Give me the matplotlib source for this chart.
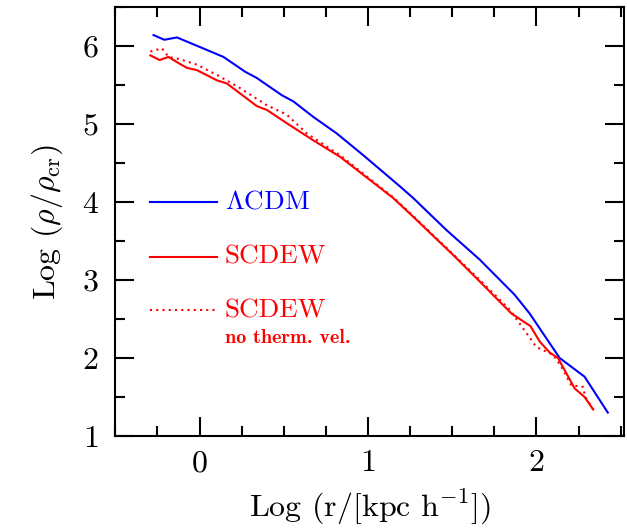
import matplotlib
matplotlib.use("Agg")
import matplotlib.pyplot as plt
from matplotlib.ticker import MultipleLocator

plt.rcParams['font.family'] = ['cmr10', 'DejaVu Serif']
plt.rcParams['mathtext.fontset'] = 'cm'
plt.rcParams['axes.unicode_minus'] = False
plt.rcParams['axes.formatter.use_mathtext'] = True

# Lambda CDM
lcdm_x = [-0.273, -0.209, -0.134, 0.142, 0.271, 0.34, 0.488, 0.557, 0.676, 0.814,
          0.972, 1.19, 1.269, 1.466, 1.664, 1.871, 1.96, 2.138, 2.286, 2.424]
lcdm_y = [6.14, 6.08, 6.11, 5.86, 5.67, 5.59, 5.37, 5.29, 5.09, 4.88,
          4.60, 4.20, 4.05, 3.64, 3.26, 2.81, 2.57, 2.00, 1.76, 1.30]

# SCDEW
scdew_x = [-0.292, -0.237, -0.184, -0.124, -0.075, -0.015, 0.103, 0.162, 0.34, 0.40,
           0.518, 0.676, 0.834, 1.15, 1.269, 1.506, 1.664, 1.852, 1.964, 2.02,
           2.079, 2.128, 2.227, 2.286, 2.337]
scdew_y = [5.88, 5.82, 5.86, 5.78, 5.72, 5.69, 5.56, 5.52, 5.23, 5.18,
           5.01, 4.79, 4.58, 4.05, 3.81, 3.32, 2.98, 2.57, 2.41, 2.21,
           2.07, 2.00, 1.61, 1.50, 1.34]

# SCDEW, no thermal velocities
nothv_x = [-0.292, -0.223, -0.184, -0.114, -0.015, 0.103, 0.241, 0.40, 0.518, 0.637,
           0.834, 1.15, 1.269, 1.506, 1.664, 1.842, 2.0, 2.1, 2.148, 2.207,
           2.277, 2.29, 2.337]
nothv_y = [5.93, 5.97, 5.86, 5.83, 5.76, 5.63, 5.46, 5.24, 5.12, 4.88,
           4.60, 4.06, 3.82, 3.33, 3.00, 2.62, 2.14, 2.04, 1.89, 1.65,
           1.63, 1.50, 1.34]

fig = plt.figure(figsize=(6.27, 5.29), dpi=100)
ax = fig.add_axes([115.3 / 627, 1 - 436 / 529, (624 - 115.3) / 627, (436 - 7) / 529])

ax.plot(lcdm_x, lcdm_y, color='#0000ff', lw=1.5)
ax.plot(scdew_x, scdew_y, color='#ff0000', lw=1.5)
ax.plot(nothv_x, nothv_y, color='#ff0000', lw=1.5, linestyle=(0, (1, 2)))

# legend drawn as lines + texts
leg_x = [-0.295, 0.103]
ax.plot(leg_x, [4.0, 4.0], color='#0000ff', lw=1.5)
ax.plot(leg_x, [3.30, 3.30], color='#ff0000', lw=1.5)
ax.plot(leg_x, [2.61, 2.61], color='#ff0000', lw=1.5, linestyle=(0, (1, 2)))
ax.text(0.15, 4.0, r'$\Lambda$CDM', color='#0000ff', fontsize=19.5, va='center', ha='left')
ax.text(0.15, 3.30, 'SCDEW', color='#ff0000', fontsize=19.5, va='center', ha='left')
ax.text(0.15, 2.61, 'SCDEW', color='#ff0000', fontsize=19.5, va='center', ha='left')
ax.text(0.15, 2.26, 'no therm. vel.', color='#ff0000', fontsize=14.5, va='center', ha='left',
        family=['cmb10', 'DejaVu Serif'])

ax.set_xlim(-0.5, 2.52)
ax.set_ylim(1, 6.5)
ax.xaxis.set_major_locator(MultipleLocator(1))
ax.xaxis.set_minor_locator(MultipleLocator(0.25))
ax.yaxis.set_major_locator(MultipleLocator(1))
ax.yaxis.set_minor_locator(MultipleLocator(0.5))
ax.tick_params(which='both', direction='in', top=True, right=True, width=1.5,
               labelsize=23, colors='black')
ax.tick_params(which='major', length=14)
ax.tick_params(which='minor', length=7)
ax.tick_params(axis='x', pad=10)
ax.tick_params(axis='y', pad=12)
for s in ax.spines.values():
    s.set_linewidth(1.5)

ax.set_xlabel(r'Log (r/[kpc h$^{-1}$])', fontsize=23, labelpad=8)
ax.set_ylabel(r'Log ($\rho/\rho_{\mathrm{cr}}$)', fontsize=23, labelpad=12)

fig.savefig('out.png', dpi=100)
